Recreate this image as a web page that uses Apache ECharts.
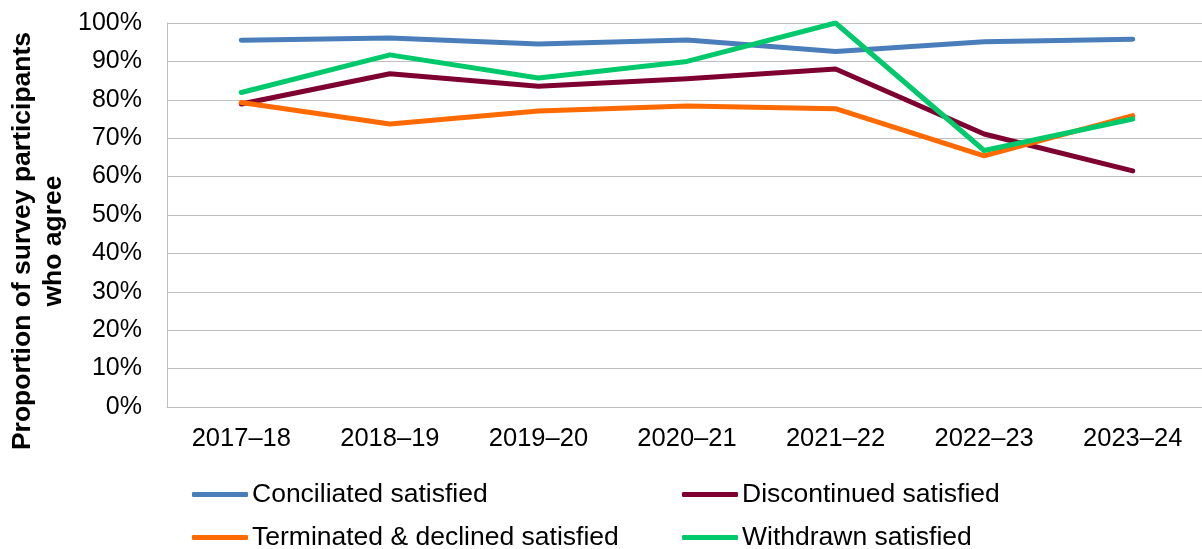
<!DOCTYPE html>
<html>
<head>
<meta charset="utf-8">
<script src="https://cdn.jsdelivr.net/npm/echarts@6/dist/echarts.min.js"></script>
<style>
  html, body { margin: 0; padding: 0; background: #fff; }
  #chart { width: 1202px; height: 549px; }
</style>
</head>
<body>
<div id="chart"></div>
<script>
// Financial years on the category axis
const years = ['2017–18', '2018–19', '2019–20', '2020–21', '2021–22', '2022–23', '2023–24'];

// Share of survey participants who agree (%)
const conciliated = [95.5, 96.1, 94.5, 95.6, 92.6, 95.1, 95.8];
const discontinued = [78.9, 86.8, 83.5, 85.5, 88.0, 71.1, 61.5];
const terminated = [79.3, 73.7, 77.1, 78.4, 77.7, 65.4, 75.9];
const withdrawn = [81.9, 91.7, 85.7, 90.0, 100.0, 66.8, 75.0];

const seriesNames = ['Conciliated satisfied', 'Discontinued satisfied', 'Terminated & declined satisfied', 'Withdrawn satisfied'];
const seriesColors = ['#4A7EBB', '#7E0031', '#FF6A00', '#00C96B'];
const seriesData = [conciliated, discontinued, terminated, withdrawn];

const FONT = '"Liberation Sans", Arial, sans-serif';

const chart = echarts.init(document.getElementById('chart'), null, { renderer: 'canvas' });

// One legend per entry, laid out as a two-column grid
const legendSpots = [
  { left: 192, top: 481 },   // Conciliated
  { left: 682, top: 481 },   // Discontinued
  { left: 192, top: 524 },   // Terminated & declined
  { left: 682, top: 524 }    // Withdrawn
];
const legends = seriesNames.map((name, i) => ({
  data: [name],
  left: legendSpots[i].left,
  top: legendSpots[i].top,
  icon: 'roundRect',
  itemWidth: 56,
  itemHeight: 5,
  itemGap: 0,
  padding: 0,
  textStyle: { fontFamily: FONT, fontSize: 26.5, color: '#000', padding: [0, 0, 0, -1] }
}));

chart.setOption({
  animation: false,
  backgroundColor: '#fff',
  textStyle: { fontFamily: FONT },
  grid: { left: 167, top: 23, right: -5, bottom: 142, containLabel: false, outerBoundsMode: 'none' },
  legend: legends,
  xAxis: {
    type: 'category',
    data: years,
    boundaryGap: true,
    axisLine: { show: true, lineStyle: { color: '#BFBFBF', width: 1 } },
    axisTick: { show: false },
    axisLabel: { color: '#000', fontSize: 25.5, fontFamily: FONT, margin: 19 },
    splitLine: { show: false }
  },
  yAxis: {
    type: 'value',
    min: 0, max: 100, interval: 10,
    axisLine: { show: true, lineStyle: { color: '#BFBFBF', width: 1 } },
    axisTick: { show: false },
    axisLabel: { color: '#000', fontSize: 25, fontFamily: FONT, margin: 25, formatter: '{value}%' },
    splitLine: { show: true, lineStyle: { color: '#BFBFBF', width: 1 } }
  },
  graphic: [{
    type: 'text',
    x: 38,
    y: 241,
    rotation: Math.PI / 2,
    style: {
      text: 'Proportion of survey participants\nwho agree',
      fill: '#000',
      font: 'bold 26.5px ' + FONT,
      lineHeight: 31.5,
      align: 'center',
      verticalAlign: 'middle'
    }
  }],
  series: seriesNames.map((name, i) => ({
    name: name,
    type: 'line',
    data: seriesData[i],
    symbol: 'none',
    showSymbol: false,
    smooth: false,
    color: seriesColors[i],
    lineStyle: { color: seriesColors[i], width: 5, cap: 'round', join: 'round' },
    emphasis: { disabled: true },
    z: 2 + i
  }))
});
</script>
</body>
</html>
